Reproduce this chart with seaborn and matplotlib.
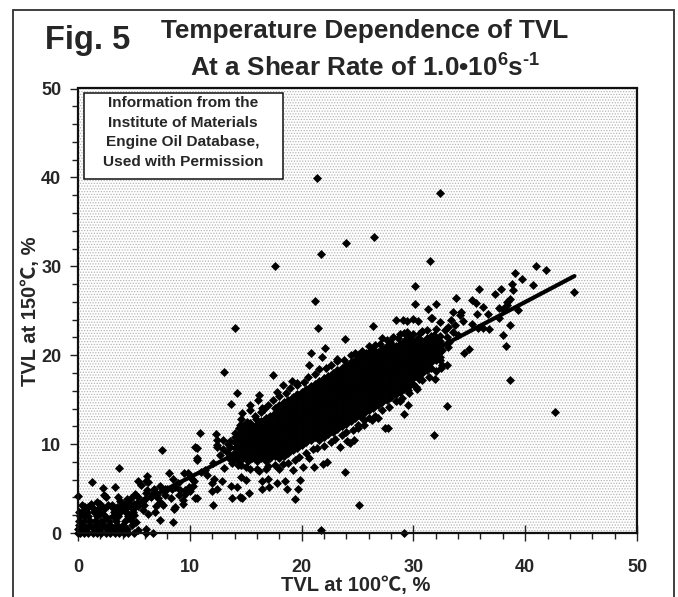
import numpy as np
import pandas as pd
import seaborn as sns
import matplotlib
matplotlib.use("Agg")
import matplotlib.pyplot as plt
from matplotlib.patches import Rectangle
from matplotlib.ticker import MultipleLocator

outlier_pts = [
    (21.4, 39.9), (32.4, 38.2), (26.5, 33.3), (24.0, 32.6), (21.7, 31.4), (31.5, 30.6), (17.6, 30.0),
    (41.0, 30.0), (41.9, 29.6), (39.1, 29.2), (39.7, 28.6), (40.7, 27.9), (38.8, 28.0), (38.9, 27.3),
    (30.1, 27.8), (35.9, 27.4), (37.8, 27.4), (37.3, 26.9), (33.8, 26.4), (21.2, 26.1), (32.0, 25.8),
    (30.1, 25.8), (35.2, 26.2), (35.6, 25.9), (36.2, 25.4), (38.6, 26.3), (38.4, 26.0), (38.4, 25.6),
    (37.7, 25.3), (38.0, 25.2), (39.4, 25.1), (33.5, 24.9), (34.3, 24.9), (35.7, 24.6), (36.7, 24.6),
    (34.2, 24.5), (31.7, 24.2), (37.7, 24.2), (32.4, 23.7), (33.4, 24.0), (34.4, 23.8), (35.2, 23.5),
    (38.6, 23.4), (35.8, 23.1), (36.2, 23.1), (36.8, 22.9), (38.0, 22.3), (38.3, 21.0), (35.0, 20.7),
    (34.5, 20.2), (44.4, 27.1), (38.6, 17.2), (42.7, 13.6), (33.0, 14.3), (31.9, 17.3), (14.0, 23.1),
    (21.5, 23.1), (31.3, 25.2), (31.6, 24.2), (26.4, 23.3), (28.4, 24.0), (29.1, 24.0), (29.4, 23.9),
    (30.0, 24.1), (30.4, 23.8), (23.9, 21.8), (13.1, 18.1), (31.8, 11.0), (25.1, 3.2), (21.7, 0.3),
    (29.2, 0.0),
]

# Points sticking out of the upper and lower edge of the main cloud
edge_pts = [
    (27.2, 21.9), (27.9, 21.5), (28.6, 21.9), (29.2, 22.5), (29.5, 22.0), (30.3, 21.7), (30.8, 22.7),
    (31.8, 22.3), (22.1, 20.8), (21.8, 19.8), (20.8, 20.2), (20.7, 18.9), (23.2, 19.6), (25.0, 20.0),
    (25.8, 20.2), (26.4, 20.7), (17.4, 17.8), (19.1, 17.1), (19.6, 16.6), (18.3, 16.6), (17.8, 15.9),
    (14.2, 15.7), (16.2, 15.5), (16.1, 15.0), (13.7, 14.5), (15.4, 14.4), (15.4, 13.8), (16.5, 14.1),
    (16.6, 14.0), (14.7, 13.5), (14.6, 12.8), (15.1, 12.5), (14.5, 12.2), (10.9, 11.3), (12.3, 11.1),
    (12.4, 9.9), (12.4, 10.5), (13.0, 10.5), (10.5, 9.7), (12.4, 9.7), (10.6, 8.4), (10.6, 8.2),
    (12.7, 8.8), (12.1, 7.9), (11.4, 7.1), (13.1, 7.3), (13.5, 8.4), (13.3, 9.1), (13.6, 9.7),
    (13.8, 7.9), (14.3, 7.6), (15.0, 7.4), (16.0, 7.2), (17.0, 7.5), (18.3, 7.8), (19.2, 7.1),
    (20.1, 7.4), (20.7, 8.4), (11.5, 6.5), (12.2, 6.1), (12.0, 5.6), (12.9, 5.9), (10.3, 5.3),
    (10.0, 4.7), (12.4, 4.9), (12.0, 4.7), (10.6, 3.9), (12.1, 3.1), (13.7, 5.3), (14.2, 5.2),
    (13.8, 3.9), (14.5, 4.1), (14.7, 3.9), (15.3, 4.5), (14.6, 6.3), (15.0, 6.0), (16.5, 5.0),
    (17.1, 5.2), (16.5, 5.8), (17.8, 5.6), (18.5, 5.8), (18.7, 5.0), (19.7, 4.9), (19.4, 3.8),
    (17.0, 6.1), (19.9, 6.0), (21.1, 7.4), (21.9, 7.8), (22.3, 8.0), (23.9, 6.9), (23.4, 9.7),
    (24.1, 10.3), (24.7, 10.5), (24.3, 10.1), (27.5, 11.8), (27.7, 11.8), (26.8, 12.9), (26.3, 12.7),
    (25.6, 12.2), (25.0, 11.8), (29.2, 13.4), (29.5, 14.4), (30.5, 17.3), (29.5, 16.1), (30.0, 16.8),
    (30.3, 16.2), (28.8, 14.8), (33.0, 18.9), (32.4, 19.5), (32.6, 20.6), (33.1, 20.9), (33.0, 22.0),
    (32.8, 22.8), (33.1, 23.2), (33.5, 22.6), (33.7, 23.4), (33.2, 21.5), (34.0, 22.3), (32.5, 18.6),
]

# Ragged rim of the black area, above and below it
upper_rim_pts = [
    (15.8, 13.2), (16.4, 13.6), (17.0, 14.4), (17.4, 15.0), (18.0, 15.4), (18.6, 15.8), (19.0, 16.3),
    (19.6, 16.9), (20.2, 17.0), (20.6, 17.5), (21.2, 17.9), (21.6, 18.4), (22.2, 18.6), (22.6, 18.9),
    (23.2, 19.3), (23.8, 19.5), (24.4, 20.0), (24.8, 20.3), (25.4, 20.5), (26.0, 21.0), (26.6, 21.2),
    (27.0, 21.3), (27.6, 21.7), (28.2, 22.0), (28.8, 22.4), (29.4, 22.6), (30.0, 22.4), (30.6, 22.5),
    (31.2, 22.8), (32.0, 23.0), (13.6, 10.4), (14.0, 11.2), (14.4, 11.8), (14.8, 12.0), (15.4, 12.4),
    (15.9, 12.8), (13.4, 10.0), (13.0, 9.4),
]
lower_rim_pts = [
    (14.6, 7.6), (15.4, 7.2), (16.2, 7.0), (16.8, 7.2), (17.6, 7.6), (18.0, 7.2), (18.8, 7.9),
    (19.4, 8.2), (19.8, 8.6), (20.4, 9.0), (21.0, 9.4), (21.4, 9.6), (22.0, 9.8), (22.6, 10.2),
    (23.0, 10.6), (23.6, 11.0), (24.0, 11.4), (24.6, 11.6), (25.0, 12.2), (25.6, 12.7), (26.0, 12.9),
    (26.6, 13.2), (27.2, 13.8), (27.8, 14.2), (28.4, 14.8), (29.0, 15.2), (29.6, 15.7), (30.2, 16.4),
    (30.8, 17.2), (31.4, 17.6), (32.0, 18.2), (32.6, 18.9), (13.8, 8.8),
]

# Lower left corner and the band along the line
low_pts = [
    (0.0, 4.2), (3.7, 7.3), (7.5, 9.3), (10.6, 9.6), (1.25, 5.7), (2.2, 5.1), (3.3, 5.2), (2.3, 4.3),
    (2.5, 4.1), (1.7, 3.5), (1.3, 2.8), (8.1, 6.7), (9.8, 6.8), (9.5, 6.8), (6.2, 6.4), (6.3, 5.7),
    (6.1, 5.8), (5.4, 5.8), (5.6, 5.4), (6.2, 4.8), (6.1, 4.5), (3.6, 4.0), (3.8, 3.6), (4.2, 3.3),
    (7.3, 5.3), (7.6, 4.8), (8.5, 6.1), (8.7, 5.2), (9.1, 4.8), (9.0, 4.3), (9.6, 4.8), (9.4, 3.7),
    (9.4, 3.3), (10.5, 3.9), (7.3, 3.5), (7.6, 3.2), (6.9, 2.4), (6.3, 2.1), (7.3, 1.5), (8.5, 1.2),
    (8.7, 2.9), (8.6, 2.7), (5.0, 3.3), (5.3, 3.4), (5.8, 3.6), (6.5, 4.0), (7.1, 4.4), (8.0, 4.9),
    (8.3, 3.9), (4.7, 3.9), (4.4, 3.8), (3.8, 2.8), (11.0, 6.9), (5.9, 3.2), (10.2, 6.1), (7.8, 4.3),
    (4.8, 0.9), (4.2, 0.4), (6.1, 0.5), (6.1, 0.0), (6.7, 0.0), (5.4, 0.3), (5.0, 0.0),
    (0.0, 0.0), (0.2, 0.0), (0.5, 0.0), (0.9, 0.0), (1.3, 0.0), (1.7, 0.0), (2.1, 0.0), (2.5, 0.0),
    (2.9, 0.0), (3.3, 0.0), (3.7, 0.0), (4.1, 0.0), (4.5, 0.0),
    (0.0, 0.4), (0.1, 0.5), (0.7, 0.4), (1.4, 0.4), (2.0, 0.4), (2.6, 0.4), (3.2, 0.4), (3.8, 0.4), (4.4, 0.4),
    (0.1, 0.9), (0.4, 0.9), (1.0, 0.9), (1.6, 0.9), (2.3, 0.9), (2.9, 0.9), (3.5, 0.9), (4.0, 0.9),
    (0.1, 1.4), (0.5, 1.4), (1.1, 1.4), (1.5, 1.4), (2.1, 1.4), (2.8, 1.4), (3.4, 1.4), (4.2, 1.4),
    (0.2, 1.9), (0.6, 1.9), (0.9, 1.9), (1.7, 1.9), (2.4, 1.9), (3.1, 1.9), (3.6, 1.9), (4.5, 1.9),
    (0.1, 2.4), (0.4, 2.4), (0.8, 2.4), (1.4, 2.4), (2.0, 2.2), (3.2, 2.4), (3.8, 2.4), (4.3, 2.4), (4.9, 2.4),
    (0.9, 2.9), (2.1, 3.0), (3.0, 2.9), (3.5, 2.9), (4.1, 2.9), (4.7, 2.9), (5.1, 2.9), (2.7, 3.1), (2.3, 2.7),
    (1.2, 3.3), (0.6, 2.9), (1.8, 2.7), (3.4, 2.3), (4.6, 3.4), (5.4, 3.0), (5.8, 2.6), (5.0, 2.0),
    (5.2, 1.2), (4.7, 1.5), (3.0, 3.2), (2.0, 3.3), (0.4, 3.1), (6.6, 4.4), (7.2, 3.9), (7.8, 5.0),
    (8.4, 5.0), (8.9, 5.6), (9.9, 5.2), (10.4, 5.8), (6.8, 4.9), (5.4, 4.0), (5.1, 4.4), (6.0, 3.8),
    (3.9, 3.2), (4.4, 2.2), (9.6, 4.4), (7.0, 3.0),
]

# The middle of the cloud is solid black, single points cannot be told apart there,
# so it is typed as y values per x column covering the black area seen in the picture
core_columns = {
    14.0: [8.4, 9.0, 9.6, 10.2, 10.8],
    14.4: [8.1, 8.7, 9.3, 9.9, 10.5, 11.1],
    14.8: [8.4, 9.0, 9.6, 10.2, 10.8, 11.4],
    15.2: [8.1, 8.7, 9.3, 9.9, 10.5, 11.1, 11.7],
    15.6: [8.4, 9.0, 9.6, 10.2, 10.8, 11.4, 12.0],
    16.0: [8.1, 8.7, 9.3, 9.9, 10.5, 11.1, 11.7, 12.3],
    16.4: [8.4, 9.0, 9.6, 10.2, 10.8, 11.4, 12.0, 12.6],
    16.8: [8.1, 8.7, 9.3, 9.9, 10.5, 11.1, 11.7, 12.3, 12.9],
    17.2: [8.4, 9.0, 9.6, 10.2, 10.8, 11.4, 12.0, 12.6, 13.2],
    17.6: [8.7, 9.3, 9.9, 10.5, 11.1, 11.7, 12.3, 12.9, 13.5, 14.1],
    18.0: [8.4, 9.0, 9.6, 10.2, 10.8, 11.4, 12.0, 12.6, 13.2, 13.8, 14.4],
    18.4: [8.7, 9.3, 9.9, 10.5, 11.1, 11.7, 12.3, 12.9, 13.5, 14.1, 14.7],
    18.8: [9.0, 9.6, 10.2, 10.8, 11.4, 12.0, 12.6, 13.2, 13.8, 14.4, 15.0],
    19.2: [9.3, 9.9, 10.5, 11.1, 11.7, 12.3, 12.9, 13.5, 14.1, 14.7, 15.3],
    19.6: [9.6, 10.2, 10.8, 11.4, 12.0, 12.6, 13.2, 13.8, 14.4, 15.0, 15.6],
    20.0: [9.9, 10.5, 11.1, 11.7, 12.3, 12.9, 13.5, 14.1, 14.7, 15.3, 15.9],
    20.4: [10.2, 10.8, 11.4, 12.0, 12.6, 13.2, 13.8, 14.4, 15.0, 15.6, 16.2],
    20.8: [10.5, 11.1, 11.7, 12.3, 12.9, 13.5, 14.1, 14.7, 15.3, 15.9, 16.5],
    21.2: [10.8, 11.4, 12.0, 12.6, 13.2, 13.8, 14.4, 15.0, 15.6, 16.2, 16.8],
    21.6: [10.5, 11.1, 11.7, 12.3, 12.9, 13.5, 14.1, 14.7, 15.3, 15.9, 16.5, 17.1],
    22.0: [10.8, 11.4, 12.0, 12.6, 13.2, 13.8, 14.4, 15.0, 15.6, 16.2, 16.8, 17.4],
    22.4: [11.1, 11.7, 12.3, 12.9, 13.5, 14.1, 14.7, 15.3, 15.9, 16.5, 17.1, 17.7],
    22.8: [11.4, 12.0, 12.6, 13.2, 13.8, 14.4, 15.0, 15.6, 16.2, 16.8, 17.4, 18.0],
    23.2: [11.7, 12.3, 12.9, 13.5, 14.1, 14.7, 15.3, 15.9, 16.5, 17.1, 17.7, 18.3],
    23.6: [12.0, 12.6, 13.2, 13.8, 14.4, 15.0, 15.6, 16.2, 16.8, 17.4, 18.0, 18.6],
    24.0: [12.3, 12.9, 13.5, 14.1, 14.7, 15.3, 15.9, 16.5, 17.1, 17.7, 18.3, 18.9],
    24.4: [12.6, 13.2, 13.8, 14.4, 15.0, 15.6, 16.2, 16.8, 17.4, 18.0, 18.6, 19.2],
    24.8: [12.9, 13.5, 14.1, 14.7, 15.3, 15.9, 16.5, 17.1, 17.7, 18.3, 18.9, 19.5],
    25.2: [13.2, 13.8, 14.4, 15.0, 15.6, 16.2, 16.8, 17.4, 18.0, 18.6, 19.2, 19.8],
    25.6: [13.5, 14.1, 14.7, 15.3, 15.9, 16.5, 17.1, 17.7, 18.3, 18.9, 19.5, 20.1],
    26.0: [13.8, 14.4, 15.0, 15.6, 16.2, 16.8, 17.4, 18.0, 18.6, 19.2, 19.8, 20.4],
    26.4: [14.1, 14.7, 15.3, 15.9, 16.5, 17.1, 17.7, 18.3, 18.9, 19.5, 20.1],
    26.8: [14.4, 15.0, 15.6, 16.2, 16.8, 17.4, 18.0, 18.6, 19.2, 19.8, 20.4],
    27.2: [14.7, 15.3, 15.9, 16.5, 17.1, 17.7, 18.3, 18.9, 19.5, 20.1, 20.7],
    27.6: [15.0, 15.6, 16.2, 16.8, 17.4, 18.0, 18.6, 19.2, 19.8, 20.4, 21.0],
    28.0: [15.3, 15.9, 16.5, 17.1, 17.7, 18.3, 18.9, 19.5, 20.1, 20.7, 21.3],
    28.4: [15.6, 16.2, 16.8, 17.4, 18.0, 18.6, 19.2, 19.8, 20.4, 21.0],
    28.8: [15.9, 16.5, 17.1, 17.7, 18.3, 18.9, 19.5, 20.1, 20.7, 21.3],
    29.2: [16.2, 16.8, 17.4, 18.0, 18.6, 19.2, 19.8, 20.4, 21.0, 21.6],
    29.6: [16.5, 17.1, 17.7, 18.3, 18.9, 19.5, 20.1, 20.7, 21.3, 21.9],
    30.0: [17.4, 18.0, 18.6, 19.2, 19.8, 20.4, 21.0, 21.6],
    30.4: [17.7, 18.3, 18.9, 19.5, 20.1, 20.7, 21.3, 21.9],
    30.8: [18.0, 18.6, 19.2, 19.8, 20.4, 21.0, 21.6],
    31.2: [18.3, 18.9, 19.5, 20.1, 20.7, 21.3, 21.9],
    31.6: [18.6, 19.2, 19.8, 20.4, 21.0, 21.6, 22.2],
    32.0: [19.5, 20.1, 20.7, 21.3, 21.9],
    32.4: [19.8, 20.4, 21.0, 21.6, 22.2],
}

line_x = [0.3, 11.0, 34.0, 44.4]
line_y = [0.1, 6.9, 22.0, 28.9]

x_ticks = [0, 10, 20, 30, 40, 50]
y_ticks = [0, 10, 20, 30, 40, 50]
info_lines = ["Information from the", "Institute of Materials",
              "Engine Oil Database,", "Used with Permission"]

W, H = 678, 597

sns.set_style("ticks")
plt.rcParams["font.family"] = ["Liberation Sans", "Noto Sans CJK SC", "DejaVu Sans"]
plt.rcParams["font.weight"] = "bold"
plt.rcParams["mathtext.fontset"] = "custom"
plt.rcParams["mathtext.bf"] = "Liberation Sans:bold"
plt.rcParams["mathtext.rm"] = "Liberation Sans:bold"
plt.rcParams["mathtext.default"] = "bf"
plt.rcParams["hatch.linewidth"] = 0.6
plt.rcParams["hatch.color"] = "#b4b4b4"


def fx(px):
    return px / W


def fy(py):
    return 1 - py / H


rows = outlier_pts + edge_pts + upper_rim_pts + lower_rim_pts + low_pts
for col_x, col_ys in core_columns.items():
    rows = rows + [(col_x, v) for v in col_ys]
df = pd.DataFrame(rows, columns=["tvl100", "tvl150"])

fig = plt.figure(figsize=(W / 100, H / 100), dpi=100)
fig.patch.set_facecolor("white")
ax = fig.add_axes([fx(78), fy(533), (637 - 78) / W, (533 - 88.5) / H])

ax.patch.set_facecolor("white")
ax.patch.set_hatch("......")
ax.patch.set_edgecolor("#b4b4b4")

sns.scatterplot(data=df, x="tvl100", y="tvl150", marker="D", s=21, color="black",
                linewidth=0, clip_on=False, zorder=3, ax=ax)
sns.lineplot(x=line_x, y=line_y, color="black", linewidth=3, sort=False, zorder=4, ax=ax)

ax.set_xlim(0, 50)
ax.set_ylim(0, 50)
ax.set_xticks(x_ticks)
ax.set_yticks(y_ticks)
ax.xaxis.set_minor_locator(MultipleLocator(2))
ax.yaxis.set_minor_locator(MultipleLocator(2))
ax.tick_params(axis="x", which="major", direction="inout", length=12, width=1, pad=13, labelsize=13, color="#202020")
ax.tick_params(axis="x", which="minor", direction="out", length=4, width=1, color="#202020")
ax.tick_params(axis="y", which="major", direction="out", length=6, width=1, pad=6, labelsize=13, color="#202020")
ax.tick_params(axis="y", which="minor", direction="out", length=4, width=1, color="#202020")
for side in ax.spines.values():
    side.set_linewidth(1.6)
    side.set_color("#101010")
    side.set_visible(True)
    side.set_zorder(5)
ax.set_xlabel("")
ax.set_ylabel("")

fig.text(fx(356), fy(586), "TVL at 100℃, %", ha="center", va="center", fontsize=14.5, fontweight="bold")
fig.text(fx(31), fy(311), "TVL at 150℃, %", ha="center", va="center", rotation=90, fontsize=14.5, fontweight="bold")
fig.text(fx(88), fy(40), "Fig. 5", ha="center", va="center", fontsize=23.5, fontweight="bold")
fig.text(fx(365), fy(31), "Temperature Dependence of TVL", ha="center", va="center", fontsize=18.8, fontweight="bold")
fig.text(fx(365), fy(68), r"At a Shear Rate of 1.0•10$^{6}$s$^{\text{-}1}$", ha="center", va="center", fontsize=18.8, fontweight="bold")

# outer frame runs off the bottom of the picture
fig.add_artist(Rectangle((fx(13), -0.02), (674 - 13) / W, fy(10) + 0.02, transform=fig.transFigure,
                         facecolor="none", edgecolor="#303030", linewidth=1.3))

# info box
fig.add_artist(Rectangle((fx(84), fy(179)), (283 - 84) / W, (179 - 93) / H, transform=fig.transFigure,
                         facecolor="white", edgecolor="#101010", linewidth=1.1, zorder=6))
for info, py in zip(info_lines, [103, 123, 142, 162]):
    fig.text(fx(183), fy(py), info, ha="center", va="center", fontsize=11.1, fontweight="bold", zorder=7)

fig.savefig("out.png", dpi=100)
